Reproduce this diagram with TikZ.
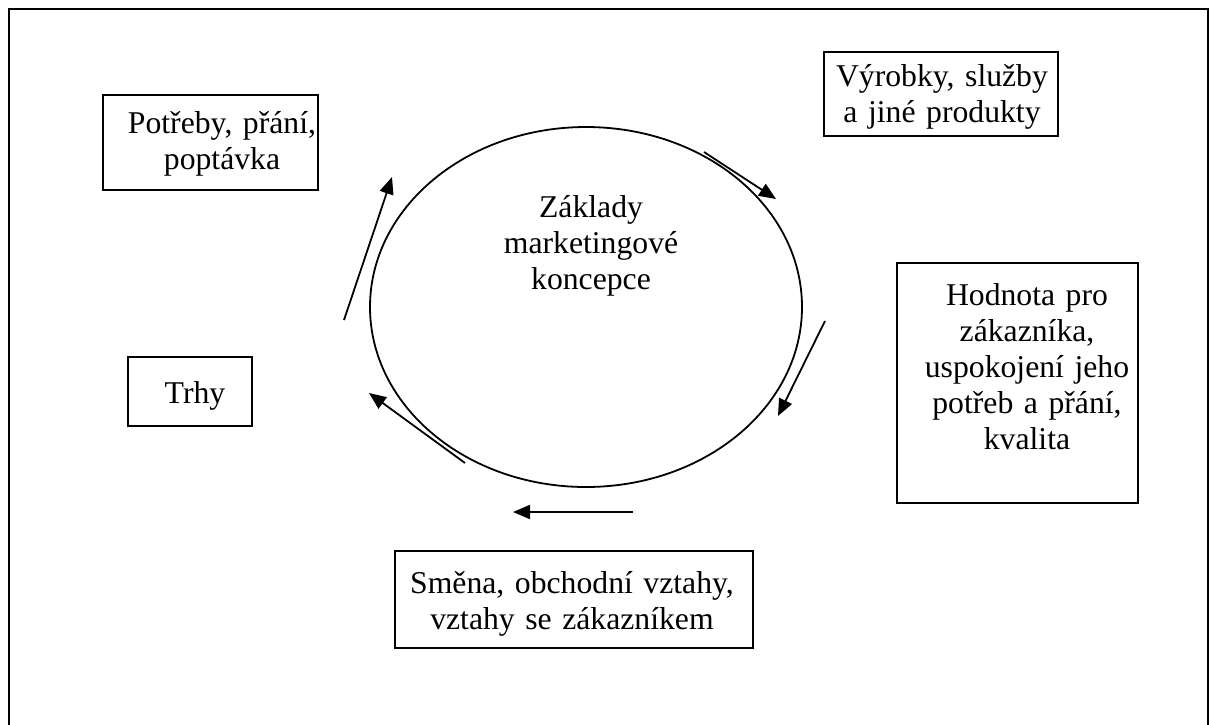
\documentclass[tikz,border=0pt]{standalone}
\usepackage{fontspec}
\setmainfont{Liberation Serif}
\usetikzlibrary{shapes.geometric,arrows.meta}

\tikzset{
  frame/.style={draw, line width=2pt},
  box/.style={draw, line width=1.8pt, rectangle, inner sep=0pt},
  oval/.style={draw, line width=1.8pt, ellipse, inner sep=0pt},
  label/.style={font=\fontsize{31.7}{36}\selectfont, align=center,
                text width=#1, inner sep=0pt, anchor=base},
  label/.default=240pt,
  flow/.style={line width=1.8pt, -{Triangle[length=17pt,width=14pt]}}
}

\begin{document}
\begin{tikzpicture}[x=1pt,y=-1pt]
  \useasboundingbox (0,0) rectangle (1209,724);
  \clip (0,0) rectangle (1209,724);

  % page frame, open at the bottom edge
  \draw[frame] (8.5,8.5) rectangle (1207.5,760);

  % central concept
  \node[oval, minimum width=432pt, minimum height=360pt] (core) at (586,307) {};
  \node[label] (coretext) at (591,217) {Základy\\marketingové\\koncepce};

  % surrounding boxes
  \node[box, minimum width=215pt, minimum height=95pt] (needs) at (210.5,142.5) {};
  \node[label] (needstext) at (222,133) {Potřeby, přání,\\poptávka};

  \node[box, minimum width=234pt, minimum height=84pt] (products) at (941,94) {};
  \node[label] (productstext) at (942,86) {Výrobky, služby\\a jiné produkty};

  \node[box, minimum width=241pt, minimum height=240pt] (value) at (1017.5,383) {};
  \node[label] (valuetext) at (1027,305) {Hodnota pro\\zákazníka,\\uspokojení jeho\\potřeb a přání,\\kvalita};

  \node[box, minimum width=124pt, minimum height=69pt] (markets) at (190,391.5) {};
  \node[label] (marketstext) at (195,403) {Trhy};

  \node[box, minimum width=358pt, minimum height=97pt] (exchange) at (574,599.5) {};
  \node[label=340pt] (exchangetext) at (572,593) {Směna, obchodní vztahy,\\vztahy se zákazníkem};

  % cycle arrows around the oval
  \coordinate (a1s) at (344,320);  \coordinate (a1e) at (392,177);
  \coordinate (a2s) at (704,152);  \coordinate (a2e) at (776,199);
  \coordinate (a3s) at (825,321);  \coordinate (a3e) at (778,416);
  \coordinate (a4s) at (465,463);  \coordinate (a4e) at (369,393);
  \coordinate (a5s) at (633,512);  \coordinate (a5e) at (513,512);

  \draw[flow] (a1s) -- (a1e);
  \draw[flow] (a2s) -- (a2e);
  \draw[flow] (a3s) -- (a3e);
  \draw[flow] (a4s) -- (a4e);
  \draw[flow] (a5s) -- (a5e);
\end{tikzpicture}
\end{document}
